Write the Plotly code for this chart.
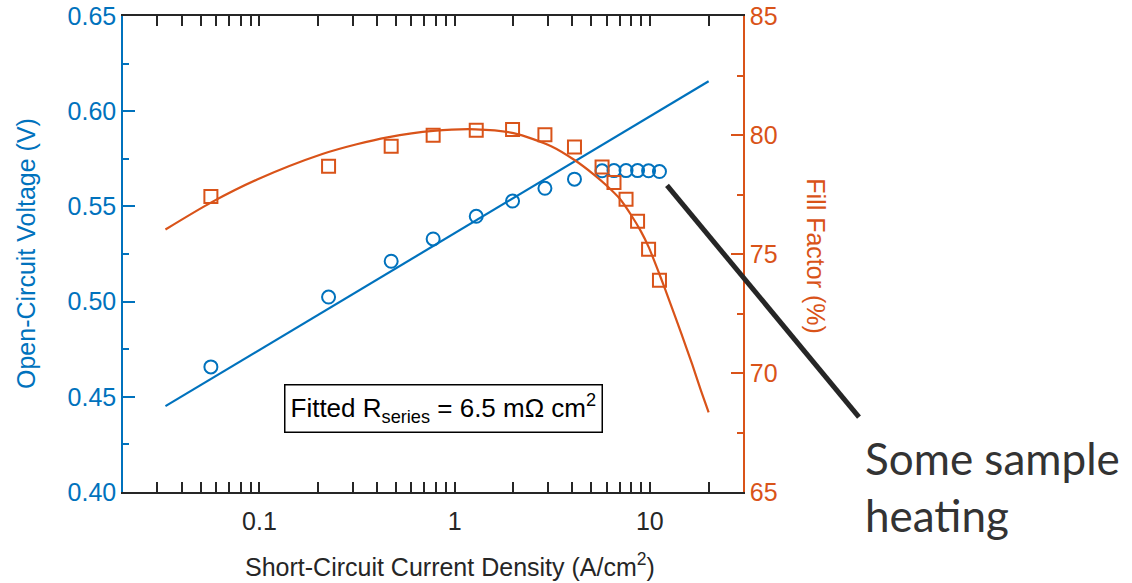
import numpy as np
import plotly.graph_objects as go

# ---- data ----
jsc = [0.0564, 0.226, 0.473, 0.776, 1.29, 1.98, 2.90, 4.11, 5.69, 6.55, 7.55, 8.65, 9.85, 11.2]
voc = [0.4657, 0.5024, 0.5212, 0.5329, 0.5448, 0.5528, 0.5595, 0.5643, 0.5687, 0.5688, 0.5688, 0.5688, 0.5687, 0.5683]
ff = [77.42, 78.69, 79.53, 79.99, 80.20, 80.23, 80.01, 79.50, 78.66, 78.00, 77.30, 76.38, 75.20, 73.90]

voc_fit_x = [0.033, 20]
voc_fit_y = [0.4451, 0.6157]

ff_fit_x = [0.033, 0.057, 0.098, 0.21, 0.315, 0.453, 0.776, 1.28, 2.0, 3.14, 4.11, 5.15,
            6.0, 7.0, 8.0, 9.0, 9.85, 11.2, 12.7, 14.5, 16.5, 18.2, 20]
ff_fit_y = [76.03, 77.18, 78.14, 79.20, 79.61, 79.90, 80.17, 80.24, 80.08, 79.52, 78.95, 78.35,
            77.88, 77.33, 76.65, 75.95, 75.30, 74.15, 72.95, 71.65, 70.35, 69.30, 68.35]

x_major = [0.1, 1, 10]
x_major_text = ["0.1", "1", "10"]
x_minor = [0.02, 0.03, 0.04, 0.05, 0.06, 0.07, 0.08, 0.09,
           0.2, 0.3, 0.4, 0.5, 0.6, 0.7, 0.8, 0.9,
           2, 3, 4, 5, 6, 7, 8, 9, 20, 30]

BLUE = "#0072BD"
ORANGE = "#D95319"
DARK = "#262626"
FONT = "Liberation Sans, Arial, sans-serif"
FS = 25

fig = go.Figure()

fig.add_trace(go.Scatter(x=voc_fit_x, y=voc_fit_y, mode="lines",
                         line=dict(color=BLUE, width=2.2), yaxis="y", showlegend=False))
fig.add_trace(go.Scatter(x=jsc, y=voc, mode="markers",
                         marker=dict(symbol="circle-open", size=13, color=BLUE, line=dict(width=2, color=BLUE)),
                         yaxis="y", showlegend=False))
fig.add_trace(go.Scatter(x=ff_fit_x, y=ff_fit_y, mode="lines", line_shape="spline",
                         line=dict(color=ORANGE, width=2.2, smoothing=0.8), yaxis="y2", showlegend=False))
fig.add_trace(go.Scatter(x=jsc, y=ff, mode="markers",
                         marker=dict(symbol="square-open", size=13, color=ORANGE, line=dict(width=2, color=ORANGE)),
                         yaxis="y2", showlegend=False))

fig.update_layout(
    width=1132, height=583,
    margin=dict(l=123, r=389, t=15.5, b=91),
    paper_bgcolor="white", plot_bgcolor="white",
    font=dict(family=FONT, size=FS, color=DARK),
    xaxis=dict(type="log", range=[np.log10(0.02), np.log10(30)],
               tickmode="array", tickvals=x_major, ticktext=x_major_text,
               ticks="inside", ticklen=10, tickwidth=1.5, tickcolor=DARK,
               showline=True, linecolor=DARK, linewidth=1.5, mirror="allticks",
               showgrid=False, zeroline=False, automargin=False,
               ticklabelstandoff=6,
               tickfont=dict(size=FS, color=DARK),
               minor=dict(tickmode="array", tickvals=x_minor, ticks="inside",
                          ticklen=5, tickwidth=1.5, tickcolor=DARK, showgrid=False)),
    yaxis=dict(range=[0.40, 0.65], tick0=0.40, dtick=0.05, tickformat=".2f",
               ticks="inside", ticklen=12, tickwidth=1.5, tickcolor=BLUE,
               showline=True, linecolor=BLUE, linewidth=1.5,
               showgrid=False, zeroline=False, automargin=False,
               tickfont=dict(size=FS, color=BLUE),
               minor=dict(dtick=0.025, ticks="inside", ticklen=6, tickwidth=1.5,
                          tickcolor=BLUE, showgrid=False)),
    yaxis2=dict(range=[65, 85], tick0=65, dtick=5, overlaying="y", side="right",
                ticks="inside", ticklen=12, tickwidth=1.5, tickcolor=ORANGE,
                showline=True, linecolor=ORANGE, linewidth=1.5,
                showgrid=False, zeroline=False, automargin=False,
                tickfont=dict(size=FS, color=ORANGE),
                minor=dict(dtick=2.5, ticks="inside", ticklen=6, tickwidth=1.5,
                           tickcolor=ORANGE, showgrid=False)),
)

W, H = 620.0, 476.5
def px(xp):
    return (xp - 123) / W
def py(yp):
    return (492.0 - yp) / H

annotations = [
    dict(text="Open-Circuit Voltage (V)", x=px(26), y=0.5, xref="paper", yref="paper",
         textangle=-90, showarrow=False, xanchor="center", yanchor="middle",
         font=dict(size=FS, color=BLUE, family=FONT)),
    dict(text="Fill Factor (%)", x=px(816), y=py(256), xref="paper", yref="paper",
         textangle=90, showarrow=False, xanchor="center", yanchor="middle",
         font=dict(size=FS, color=ORANGE, family=FONT)),
    dict(text="Short-Circuit Current Density (A/cm<sup>2</sup>)", x=px(450), y=py(565),
         xref="paper", yref="paper", showarrow=False, xanchor="center", yanchor="middle",
         font=dict(size=FS, color=DARK, family=FONT)),
    dict(text="Fitted R<sub>series</sub> = 6.5 mΩ cm<sup>2</sup>", x=px(443.5), y=py(408),
         xref="paper", yref="paper", showarrow=False, xanchor="center", yanchor="middle",
         bgcolor="white", bordercolor="black", borderwidth=1.5, borderpad=5,
         font=dict(size=26, color="black", family=FONT)),
    dict(text="Some sample<br>heating", x=px(863), y=py(486), xref="paper", yref="paper",
         showarrow=False, xanchor="left", yanchor="middle", align="left",
         font=dict(size=44, color="#333333", family="Lato, Noto Sans, sans-serif")),
]
fig.update_layout(annotations=annotations)

fig.add_shape(type="line", xref="paper", yref="paper",
              x0=px(667), y0=py(185), x1=px(859), y1=py(417),
              line=dict(color=DARK, width=5))

fig.write_html("out.html")
